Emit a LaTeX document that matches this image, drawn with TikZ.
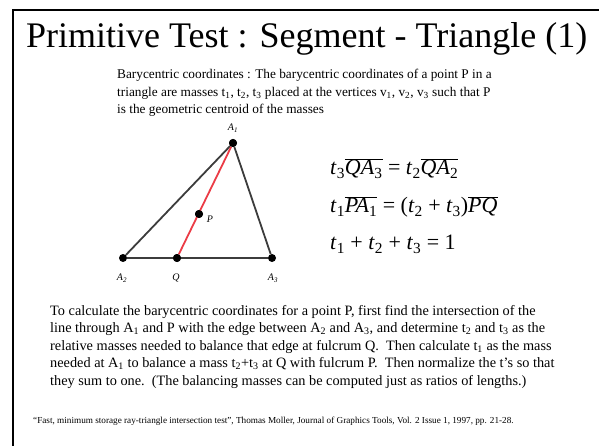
\documentclass[tikz,border=0pt]{standalone}
\usepackage{fontspec}
\setmainfont{Liberation Serif}
\usetikzlibrary{positioning}
\definecolor{EdgeGray}{RGB}{60,60,60}
\definecolor{LineRed}{RGB}{235,60,70}
\newcommand{\tv}[1]{\textit{t}\textsubscript{#1}}
\newcommand{\seg}[1]{$\overline{\mbox{#1}}$}
\tikzset{
  vtx/.style={circle,fill=black,inner sep=0pt,minimum size=8pt},
  vlabel/.style={font=\fontsize{10}{11}\selectfont\itshape,inner sep=1pt},
  edge/.style={EdgeGray,line width=1.8pt},
  bodytext/.style={anchor=base west,align=left,inner sep=0pt},
  eqn/.style={anchor=base west,inner sep=0pt,font=\fontsize{22}{26}\selectfont}
}
\begin{document}
\begin{tikzpicture}[x=1pt,y=-1pt]
\useasboundingbox (0,0) rectangle (599,446);
% slide frame
\draw[line width=2.2pt] (13,446) -- (13,10) -- (599,10);
\node[anchor=base west,inner sep=0pt,font=\fontsize{36}{40}\selectfont]
    (title) at (26,48) {Primitive Test : Segment - Triangle (1)};
% last line of a node is its base
\node[bodytext,font=\fontsize{13.3}{17.5}\selectfont] (intro) at (117,114)
    {Barycentric coordinates : The barycentric coordinates of a point P in a\\
     triangle are masses t\textsubscript{1}, t\textsubscript{2}, t\textsubscript{3} placed at the vertices v\textsubscript{1}, v\textsubscript{2}, v\textsubscript{3} such that P\\
     is the geometric centroid of the masses};
% triangle
\node[vtx] (A1) at (233,143) {};
\node[vtx] (A2) at (123,258) {};
\node[vtx] (A3) at (272,258) {};
\node[vtx] (Q) at (177,258) {};
\node[vtx] (P) at (199,214) {};
\draw[edge] (A1) -- (A2);
\draw[edge] (A1) -- (A3);
\draw[EdgeGray,line width=1.4pt] (A2) -- (A3);
\draw[LineRed,line width=1.8pt] (A1) -- (Q);
\node[vtx] at (A1) {};
\node[vtx] at (Q) {};
\node[vtx] at (P) {};
\node[vlabel] (lA1) at (233,128) {A\textsubscript{1}};
\node[vlabel] (lA2) at (122,278) {A\textsubscript{2}};
\node[vlabel] (lQ) at (176,278) {Q};
\node[vlabel] (lA3) at (273,278) {A\textsubscript{3}};
\node[vlabel] (lP) at (210,219) {P};
% equations
\node[eqn] (eq1) at (330,175) {\tv{3}\seg{\textit{QA}\textsubscript{3}} = \tv{2}\seg{\textit{QA}\textsubscript{2}}};
\node[eqn] (eq2) at (330,213) {\tv{1}\seg{\textit{PA}\textsubscript{1}} = (\tv{2} + \tv{3})\seg{\textit{PQ}}};
\node[eqn] (eq3) at (330,250) {\tv{1} + \tv{2} + \tv{3} = 1};
\node[bodytext,font=\fontsize{14.3}{17.5}\selectfont] (expl) at (50,385)
    {To calculate the barycentric coordinates for a point P, first find the intersection of the\\
     line through A\textsubscript{1} and P with the edge between A\textsubscript{2} and A\textsubscript{3}, and determine t\textsubscript{2} and t\textsubscript{3} as the\\
     relative masses needed to balance that edge at fulcrum Q.\ \ Then calculate t\textsubscript{1} as the mass\\
     needed at A\textsubscript{1} to balance a mass t\textsubscript{2}+t\textsubscript{3} at Q with fulcrum P.\ \ Then normalize the t's so that\\
     they sum to one.\ \ (The balancing masses can be computed just as ratios of lengths.)};
\node[bodytext,font=\fontsize{9.2}{10}\selectfont] (cite) at (33,423)
    {``Fast, minimum storage ray-triangle intersection test'', Thomas Moller, Journal of Graphics Tools, Vol. 2 Issue 1, 1997, pp. 21-28.};
\end{tikzpicture}
\end{document}
